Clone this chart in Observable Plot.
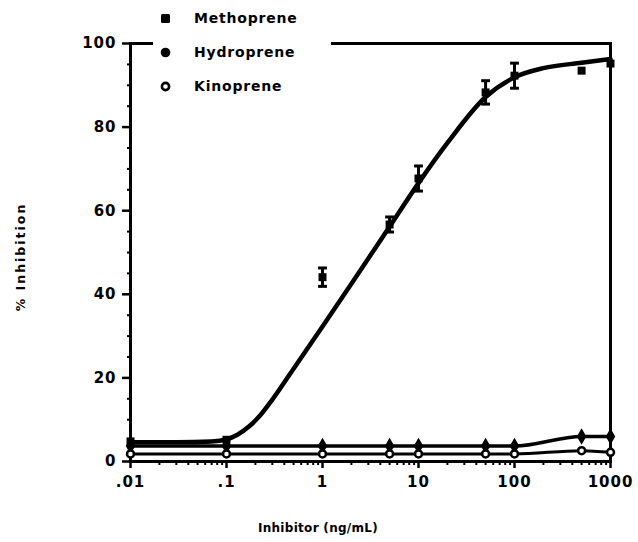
<!DOCTYPE html>
<html><head><meta charset="utf-8">
<script src="https://cdn.jsdelivr.net/npm/d3@7"></script>
<script src="https://cdn.jsdelivr.net/npm/@observablehq/plot@0.6"></script>
<style>
body{margin:0;background:#fff;}
#wrap{position:relative;width:638px;height:542px;font-family:"DejaVu Sans",sans-serif;font-weight:bold;color:#000;}
#legend{position:absolute;left:153px;top:0;width:178px;height:100px;background:#fff;}
.row{position:absolute;left:0;height:20px;display:flex;align-items:center;font-size:14px;letter-spacing:0.8px;}
.row svg{margin-left:6px;margin-right:22px;}
#ylab{position:absolute;left:20px;top:257px;transform:translate(-50%,-50%) rotate(-90deg);font-size:12.5px;letter-spacing:2px;white-space:nowrap;}
#xlab{position:absolute;left:318px;top:528px;transform:translate(-50%,-50%);font-size:12px;letter-spacing:0.3px;white-space:nowrap;}
</style></head><body>
<div id="wrap"><div id="chart"></div><div id="legend"></div><div id="ylab">% Inhibition</div><div id="xlab">Inhibitor (ng/mL)</div></div>
<script>
const seriesNames = ["Methoprene", "Hydroprene", "Kinoprene"];
const concentrations = [0.01, 0.1, 1, 5, 10, 50, 100, 500, 1000];
const methoprene = [4.8, 5.2, 44.1, 56.7, 67.7, 88.3, 92.3, 93.5, 95.2];
const methopreneErr = [0, 0, 2.2, 1.8, 3.0, 2.8, 3.0, 0, 0];
const hydroprene = [3.7, 3.7, 3.7, 3.7, 3.7, 3.7, 3.7, 6.0, 6.0];
const kinoprene = [1.8, 1.8, 1.8, 1.8, 1.8, 1.8, 1.8, 2.6, 2.2];
const fitConc = [0.01, 0.03, 0.07, 0.1, 0.13, 0.17, 0.22, 0.3, 0.5, 1, 2, 5, 10, 20, 50, 100, 200, 500, 1000];
const methopreneFit = [4.6, 4.6, 4.8, 5.3, 6.4, 8.3, 10.8, 14.8, 22.2, 32.3, 42.5, 56.2, 66.6, 76.2, 87.2, 91.9, 94.1, 95.4, 96.3];
const xTicks = [0.01, 0.1, 1, 10, 100, 1000];
const xTickLabels = [".01", ".1", "1", "10", "100", "1000"];
const yTicks = [0, 20, 40, 60, 80, 100];

const pts = (ys) => concentrations.map((c, i) => ({c, v: ys[i], e: methopreneErr[i]}));
const methPts = pts(methoprene);
const hydPts = pts(hydroprene);
const kinPts = pts(kinoprene);
const errPts = methPts.filter(d => d.e > 0);
const fit = fitConc.map((c, i) => ({c, v: methopreneFit[i]}));
const minorX = [];
for (let k = -2; k < 3; k++) for (let m = 2; m <= 9; m++) minorX.push(m * Math.pow(10, k));
const minorY = d3.range(0, 101, 5).filter(v => v % 20 !== 0);

const cap = {draw(ctx, size) { const w = Math.sqrt(size) / 2; ctx.moveTo(-w, 0); ctx.lineTo(w, 0); }};
const font = {fontFamily: "DejaVu Sans, sans-serif", fontWeight: "bold"};

const chart = Plot.plot({
  width: 638, height: 542,
  marginLeft: 130, marginRight: 28, marginTop: 43, marginBottom: 81,
  style: {background: "#fff", color: "#000", fontFamily: "DejaVu Sans, sans-serif", fontWeight: "bold", letterSpacing: "1px"},
  x: {type: "log", domain: [0.01, 1000]},
  y: {domain: [0, 100]},
  marks: [
    Plot.axisX({ticks: minorX, tickSize: 4, strokeWidth: 2, tickFormat: () => "", label: null}),
    Plot.axisX({ticks: xTicks, tickSize: 7, strokeWidth: 2.5, tickPadding: 8, fontSize: 15, tickFormat: (d) => xTickLabels[xTicks.indexOf(d)], label: null, ...font}),
    Plot.axisY({ticks: minorY, tickSize: 3, strokeWidth: 2, tickFormat: () => "", label: null}),
    Plot.axisY({ticks: yTicks, tickSize: 8, strokeWidth: 2.5, tickPadding: 6, fontSize: 15, label: null, ...font}),
    Plot.frame({strokeWidth: 3}),
    Plot.line(hydPts, {x: "c", y: "v", strokeWidth: 3.5, curve: "monotone-x"}),
    Plot.line(kinPts, {x: "c", y: "v", strokeWidth: 3, curve: "monotone-x"}),
    Plot.line(fit, {x: "c", y: "v", strokeWidth: 4.5, curve: "monotone-x"}),
    Plot.ruleX(errPts, {x: "c", y1: d => d.v - d.e, y2: d => d.v + d.e, strokeWidth: 3}),
    Plot.dot(errPts, {x: "c", y: d => d.v - d.e, symbol: cap, r: 5, stroke: "#000", fill: "none", strokeWidth: 3}),
    Plot.dot(errPts, {x: "c", y: d => d.v + d.e, symbol: cap, r: 5, stroke: "#000", fill: "none", strokeWidth: 3}),
    Plot.dot(hydPts, {x: "c", y: "v", symbol: "diamond", r: 5, fill: "#000"}),
    Plot.dot(kinPts, {x: "c", y: "v", symbol: "circle", r: 3.5, fill: "#fff", stroke: "#000", strokeWidth: 2.5}),
    Plot.dot(methPts, {x: "c", y: "v", symbol: "square", r: 4.5, fill: "#000"})
  ]
});
document.getElementById("chart").appendChild(chart);

const legendSymbols = {
  Methoprene: '<rect x="2" y="2" width="9" height="9" rx="1.5" fill="#000"/>',
  Hydroprene: '<circle cx="6.5" cy="6.5" r="4.8" fill="#000"/>',
  Kinoprene: '<circle cx="6.5" cy="6.5" r="3.6" fill="#fff" stroke="#000" stroke-width="2.6"/>'
};
const legend = document.getElementById("legend");
const rowTops = [8, 42, 76];
seriesNames.forEach((name, i) => {
  const row = document.createElement("div");
  row.className = "row";
  row.style.top = rowTops[i] + "px";
  row.innerHTML = `<svg width="13" height="13">${legendSymbols[name]}</svg><span>${name}</span>`;
  legend.appendChild(row);
});
</script>
</body></html>
